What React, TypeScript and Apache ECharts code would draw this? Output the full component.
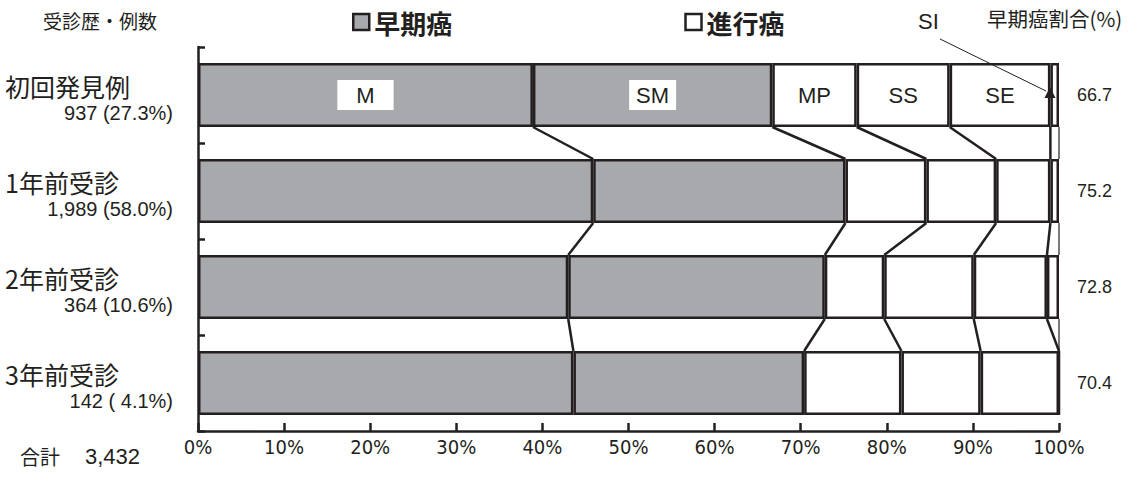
import React, { useEffect, useRef } from 'react';
import * as echarts from 'echarts';

// ---- data ----
const categories = ['初回発見例', '1年前受診', '2年前受診', '3年前受診'];
const caseCounts = ['937 (27.3%)', '1,989 (58.0%)', '364 (10.6%)', '142 ( 4.1%)'];
const earlyRatios = ['66.7', '75.2', '72.8', '70.4'];
const stageNames = ['M', 'SM', 'MP', 'SS', 'SE', 'SI'];
const valM = [38.9, 45.9, 43.0, 43.6];
const valSM = [27.8, 29.3, 29.8, 26.8];
const valMP = [9.8, 9.4, 6.9, 11.3];
const valSS = [10.8, 8.1, 10.4, 9.2];
const valSE = [11.7, 6.3, 8.5, 9.1];
const valSI = [1.0, 1.0, 1.4, 0];
const legendNames = ['早期癌', '進行癌'];
const yHeader = '受診歴・例数';
const ratioHeader = '早期癌割合(%)';
const siNote = 'SI';
const totalWord = '合計';
const totalCount = '3,432';

const stageValues = [valM, valSM, valMP, valSS, valSE, valSI];

const INK = '#231f20';
const GRAY = '#a7a9ac';
const CJK = '"Noto Sans CJK JP", "Noto Sans", sans-serif';
const LAT = '"Liberation Sans", Arial, sans-serif';
const NARROW = '"Liberation Sans Narrow", "DejaVu Sans Condensed", "Liberation Sans", sans-serif';
const BAR_RATIO = 2 / 3;

export default function App() {
  const ref = useRef<HTMLDivElement>(null);

  useEffect(() => {
    if (!ref.current) return;
    const chart = echarts.init(ref.current, undefined, { renderer: 'svg' });

    // cumulative boundaries per category
    const cums: number[][] = categories.map((_, i) => {
      let s = 0;
      return stageValues.map((arr) => {
        s += arr[i];
        return Math.round(s * 10) / 10;
      });
    });
    const connectors: number[][] = [];
    for (let i = 0; i < categories.length - 1; i++) {
      for (let k = 0; k < stageNames.length; k++) {
        const last = k === stageNames.length - 1;
        connectors.push([cums[i][k], cums[i + 1][k], i, last ? 1.2 : 2.5]);
      }
    }

    const barSeries = stageNames.map((name, k) => ({
      type: 'bar',
      name,
      stack: 'total',
      barWidth: `${BAR_RATIO * 100}%`,
      silent: true,
      itemStyle: {
        color: k < 2 ? GRAY : '#ffffff',
        borderColor: INK,
        borderWidth: 2.5,
      },
      label: { show: false },
      data: stageValues[k].map((v, i) =>
        i === 0 && k < 5
          ? {
              value: v,
              label: {
                show: true,
                position: 'inside',
                formatter: name,
                fontFamily: LAT,
                fontSize: 22,
                color: INK,
                backgroundColor: k < 2 ? '#ffffff' : 'transparent',
                padding: k === 0 ? [4, 19] : [4, 7],
              },
            }
          : v
      ),
    }));

    const dummySeries = legendNames.map((name, j) => ({
      type: 'bar',
      name,
      stack: 'total',
      data: [],
      itemStyle: { color: j === 0 ? GRAY : '#ffffff', borderColor: INK, borderWidth: 2.5 },
    }));

    const option: any = {
      animation: false,
      grid: { left: 198, right: 80, top: 47, bottom: 53, containLabel: false },
      legend: {
        left: 347,
        top: 4,
        itemGap: 232,
        itemWidth: 16,
        itemHeight: 16,
        icon: 'rect',
        selectedMode: false,
        textStyle: { fontSize: 26, fontWeight: 'bold', fontFamily: CJK, color: INK },
        data: legendNames.map((n, j) => ({
          name: n,
          itemStyle: { color: j === 0 ? GRAY : '#ffffff', borderColor: INK, borderWidth: 2.5 },
        })),
      },
      xAxis: {
        type: 'value',
        min: 0,
        max: 100,
        interval: 10,
        splitLine: { show: false },
        axisLine: { show: true, lineStyle: { color: INK, width: 2.5 } },
        axisTick: { show: true, inside: true, length: 8, lineStyle: { color: INK, width: 2.5 } },
        axisLabel: {
          formatter: '{value}%',
          fontFamily: NARROW,
          fontSize: 20,
          color: INK,
          margin: 6,
        },
      },
      yAxis: [
        {
          type: 'category',
          data: categories,
          inverse: true,
          axisLine: { show: true, lineStyle: { color: INK, width: 2.5 } },
          axisTick: { show: true, inside: true, length: 7, lineStyle: { color: INK, width: 2.5 } },
          axisLabel: {
            margin: 25,
            align: 'right',
            padding: [8, 0, 0, 0],
            formatter: (_v: string, i: number) => `{a|${categories[i]}}\n{b|${caseCounts[i]}}`,
            rich: {
              a: { fontFamily: CJK, fontSize: 25, color: INK, width: 168, align: 'left', lineHeight: 27 },
              b: { fontFamily: LAT, fontSize: 20, color: INK, align: 'right', lineHeight: 27 },
            },
          },
        },
        {
          type: 'category',
          data: categories,
          inverse: true,
          position: 'right',
          axisLine: { show: false },
          axisTick: { show: false },
          axisLabel: {
            margin: 18,
            formatter: (_v: string, i: number) => earlyRatios[i],
            fontFamily: LAT,
            fontSize: 18,
            color: INK,
          },
        },
      ],
      series: [
        ...barSeries,
        ...dummySeries,
        {
          type: 'custom',
          silent: true,
          coordinateSystem: 'cartesian2d',
          xAxisIndex: 0,
          yAxisIndex: 0,
          encode: { x: [0, 1], y: 2 },
          data: connectors,
          z: 3,
          renderItem: (_params: any, api: any) => {
            const x1 = api.value(0);
            const x2 = api.value(1);
            const i = api.value(2);
            const w = api.value(3);
            const p1 = api.coord([x1, i]);
            const p2 = api.coord([x2, i + 1]);
            const band = api.size([0, 1])[1];
            const half = (band * BAR_RATIO) / 2;
            return {
              type: 'line',
              shape: { x1: p1[0], y1: p1[1] + half, x2: p2[0], y2: p2[1] - half },
              style: { stroke: INK, lineWidth: w },
            };
          },
        },
      ],
      graphic: {
        elements: [
          {
            type: 'text',
            x: 43,
            y: 20,
            style: { text: yHeader, fontFamily: CJK, fontSize: 19, fill: INK, verticalAlign: 'middle' },
          },
          {
            type: 'text',
            x: 918,
            y: 21,
            style: { text: siNote, fontFamily: LAT, fontSize: 22, fill: INK, verticalAlign: 'middle' },
          },
          {
            type: 'text',
            x: 987,
            y: 18,
            style: { text: ratioHeader, fontFamily: CJK, fontSize: 20.5, fill: INK, verticalAlign: 'middle' },
          },
          {
            type: 'text',
            x: 20,
            y: 456,
            style: { text: totalWord, fontFamily: CJK, fontSize: 20, fill: INK, verticalAlign: 'middle' },
          },
          {
            type: 'text',
            x: 85,
            y: 456,
            style: { text: totalCount, fontFamily: LAT, fontSize: 22, fill: INK, verticalAlign: 'middle' },
          },
          {
            type: 'line',
            z: 100,
            shape: { x1: 940, y1: 39, x2: 1046, y2: 91 },
            style: { stroke: INK, lineWidth: 1 },
          },
          {
            type: 'polygon',
            z: 100,
            shape: { points: [[1050, 87], [1044.5, 98], [1055.5, 98]] },
            style: { fill: INK },
          },
        ],
      },
    };

    chart.setOption(option);
    return () => chart.dispose();
  }, []);

  return (
    <div
      ref={ref}
      style={{ position: 'fixed', left: 0, top: 0, width: 1139, height: 484, background: '#fff' }}
    />
  );
}
